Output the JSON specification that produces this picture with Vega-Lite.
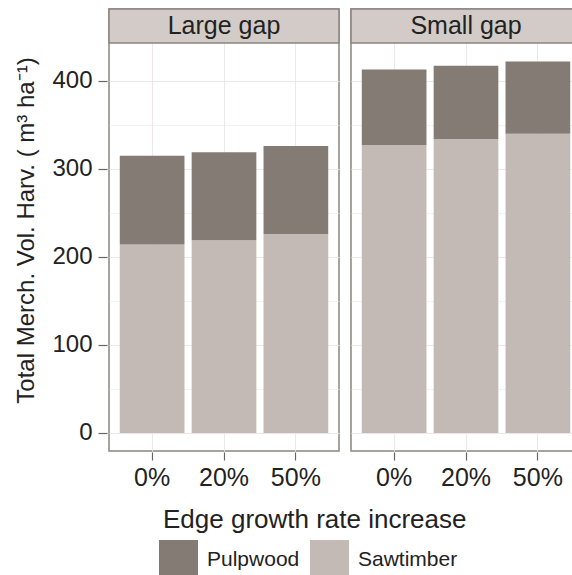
{
  "$schema": "https://vega.github.io/schema/vega-lite/v6.json",
  "padding": {"left": 14, "top": 7, "right": 0, "bottom": 0},
  "background": "white",
  "title": {
    "text": "Edge growth rate increase",
    "orient": "bottom",
    "anchor": "middle",
    "fontSize": 26,
    "fontWeight": "normal",
    "color": "#222",
    "baseline": "alphabetic",
    "offset": -51,
    "dx": 16
  },
  "data": {
    "values": [
      {"gap": "Large gap", "rate": "0%", "type": "Sawtimber", "vol": 214},
      {"gap": "Large gap", "rate": "0%", "type": "Pulpwood", "vol": 101},
      {"gap": "Large gap", "rate": "20%", "type": "Sawtimber", "vol": 219},
      {"gap": "Large gap", "rate": "20%", "type": "Pulpwood", "vol": 100},
      {"gap": "Large gap", "rate": "50%", "type": "Sawtimber", "vol": 226},
      {"gap": "Large gap", "rate": "50%", "type": "Pulpwood", "vol": 100},
      {"gap": "Small gap", "rate": "0%", "type": "Sawtimber", "vol": 327},
      {"gap": "Small gap", "rate": "0%", "type": "Pulpwood", "vol": 86},
      {"gap": "Small gap", "rate": "20%", "type": "Sawtimber", "vol": 334},
      {"gap": "Small gap", "rate": "20%", "type": "Pulpwood", "vol": 83},
      {"gap": "Small gap", "rate": "50%", "type": "Sawtimber", "vol": 340},
      {"gap": "Small gap", "rate": "50%", "type": "Pulpwood", "vol": 82}
    ]
  },
  "facet": {
    "column": {"field": "gap", "type": "nominal", "header": null}
  },
  "spacing": 8,
  "spec": {
    "width": 230,
    "height": 442,
    "layer": [
      {
        "mark": {"type": "bar"},
        "encoding": {
          "x": {
            "field": "rate",
            "type": "ordinal",
            "sort": ["0%", "20%", "50%"],
            "scale": {"paddingInner": 0.1, "paddingOuter": 0.15},
            "axis": {
              "title": null,
              "labelAngle": 0,
              "labelFontSize": 25,
              "labelColor": "#222",
              "labelPadding": 5,
              "tickSize": 8,
              "tickColor": "#666",
              "tickWidth": 1.2,
              "domain": false,
              "grid": true,
              "gridColor": "#eee7e7",
              "gridWidth": 1
            }
          },
          "y": {
            "field": "vol",
            "type": "quantitative",
            "stack": "zero",
            "scale": {"domain": [-20.5, 481.6], "nice": false, "zero": false},
            "axis": {
              "title": "Total Merch. Vol. Harv. ( m³ ha⁻¹)",
              "titleFontSize": 24,
              "titleColor": "#222",
              "titleFontWeight": "normal",
              "titlePadding": 13,
              "values": [0, 50, 100, 150, 200, 250, 300, 350, 400],
              "labelExpr": "datum.value % 100 === 0 ? datum.label : ''",
              "labelFontSize": 24,
              "labelColor": "#222",
              "labelPadding": 6,
              "tickSize": 9,
              "tickColor": "#666",
              "tickWidth": 1.2,
              "tickOpacity": {"condition": {"test": "datum.value % 100 === 0", "value": 1}, "value": 0},
              "domain": false,
              "grid": true,
              "gridColor": "#eee7e7",
              "gridWidth": {"condition": {"test": "datum.value % 100 === 0", "value": 1}, "value": 0.6}
            }
          },
          "color": {
            "field": "type",
            "type": "nominal",
            "scale": {"domain": ["Pulpwood", "Sawtimber"], "range": ["#857b75", "#c3bab5"]},
            "legend": {
              "title": null,
              "orient": "none",
              "legendX": 50,
              "legendY": 531,
              "direction": "horizontal",
              "padding": 0,
              "symbolType": "square",
              "symbolSize": 1521,
              "symbolStrokeWidth": 0,
              "labelFontSize": 21,
              "labelColor": "#222",
              "labelOffset": 9,
              "columnPadding": 10
            }
          },
          "order": {"field": "type", "sort": "descending"}
        }
      },
      {
        "transform": [{"aggregate": [{"op": "count", "as": "n"}], "groupby": ["gap"]}],
        "mark": {"type": "rect", "fill": "#d3cbc7", "stroke": "#8a8580", "strokeWidth": 1.5},
        "encoding": {
          "y": {"datum": 443},
          "y2": {"datum": 481.6}
        }
      },
      {
        "transform": [{"aggregate": [{"op": "count", "as": "n"}], "groupby": ["gap"]}],
        "mark": {"type": "text", "fontSize": 25, "color": "#222", "baseline": "middle", "align": "center"},
        "encoding": {
          "y": {"datum": 462},
          "text": {"field": "gap", "type": "nominal"}
        }
      }
    ]
  },
  "config": {
    "font": "Liberation Sans",
    "view": {"stroke": "#8a8580", "strokeWidth": 1.5},
    "axis": {"labelFont": "Liberation Sans", "titleFont": "Liberation Sans"},
    "legend": {"labelFont": "Liberation Sans"}
  }
}
